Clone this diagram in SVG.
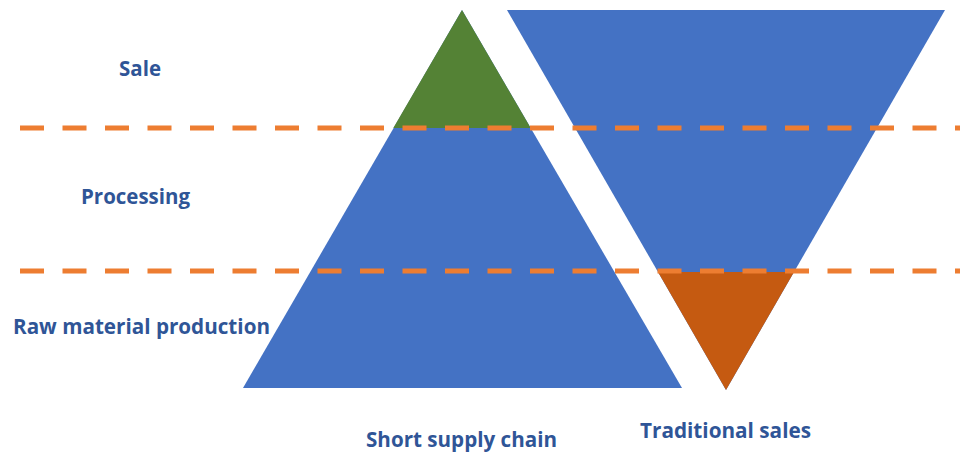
<svg xmlns="http://www.w3.org/2000/svg" width="960" height="452" viewBox="0 0 960 452">
<style>
.lbl{font-family:"Open Sans","Liberation Sans",sans-serif;font-weight:700;font-size:21px;fill:#2F5597}
.dash{stroke:#ED7D31;stroke-width:5;stroke-dasharray:24 18.5;fill:none}
</style>
<rect width="960" height="452" fill="#FFFFFF"/>
<g id="short-chain">
<polygon points="462,10 682,388 243,388" fill="#4472C4"/>
<polygon points="462,10 530.7,128 393.3,128" fill="#548235"/>
</g>
<g id="traditional">
<polygon points="507,10 945,10 726,390" fill="#4472C4"/>
<polygon points="658,272 794,272 726,390" fill="#C55A11"/>
</g>
<g id="connectors">
<line class="dash" x1="20" y1="128" x2="960" y2="128"/>
<line class="dash" x1="20" y1="271" x2="960" y2="271"/>
</g>
<g id="labels">
<text class="lbl" x="119" y="76" textLength="42" lengthAdjust="spacingAndGlyphs">Sale</text>
<text class="lbl" x="81" y="204" textLength="109" lengthAdjust="spacingAndGlyphs">Processing</text>
<text class="lbl" x="13" y="334" textLength="257" lengthAdjust="spacingAndGlyphs">Raw material production</text>
<text class="lbl" x="366" y="447" textLength="191" lengthAdjust="spacingAndGlyphs">Short supply chain</text>
<text class="lbl" x="640" y="438" textLength="171" lengthAdjust="spacingAndGlyphs">Traditional sales</text>
</g>
</svg>
